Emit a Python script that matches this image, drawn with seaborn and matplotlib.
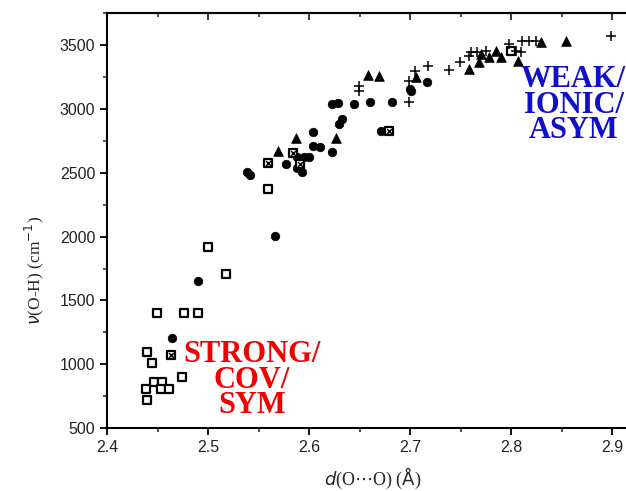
import numpy as np
import pandas as pd
import seaborn as sns
import matplotlib.pyplot as plt
from matplotlib.ticker import MultipleLocator

# Datos: d(O...O) en Å, nu(O-H) en cm^-1
sq_d = [2.4495, 2.476, 2.490, 2.440, 2.4446, 2.474, 2.4465, 2.4545, 2.4386,
        2.4535, 2.461, 2.440, 2.500, 2.518, 2.559, 2.800]
sq_v = [1403, 1403, 1403, 1097, 1010, 900, 861, 861, 806,
        806, 806, 720, 1921, 1709, 2376, 3452]

xsq_d = [2.4634, 2.559, 2.584, 2.591, 2.679]
xsq_v = [1073, 2580, 2658, 2572, 2831]

circ_d = [2.4644, 2.490, 2.539, 2.5416, 2.566, 2.604, 2.588, 2.595, 2.600,
          2.577, 2.588, 2.593, 2.604, 2.611, 2.623, 2.630, 2.633, 2.623,
          2.629, 2.645, 2.660, 2.682, 2.671, 2.700, 2.701, 2.717]
circ_v = [1206, 1654, 2510, 2486, 2007, 2816, 2627, 2627, 2627,
          2572, 2541, 2510, 2714, 2706, 2666, 2886, 2918, 3036,
          3044, 3036, 3051, 3051, 2824, 3153, 3138, 3208]

tri_d = [2.569, 2.587, 2.627, 2.658, 2.669, 2.706, 2.758, 2.768, 2.770,
         2.778, 2.785, 2.790, 2.807, 2.830, 2.854]
tri_v = [2674, 2769, 2769, 3263, 3255, 3247, 3310, 3365, 3428,
         3404, 3452, 3404, 3373, 3522, 3530]

plus_d = [2.649, 2.649, 2.699, 2.699, 2.705, 2.718, 2.739, 2.749, 2.758,
          2.760, 2.766, 2.775, 2.798, 2.805, 2.810, 2.811, 2.818, 2.825, 2.899]
plus_v = [3177, 3138, 3051, 3216, 3295, 3334, 3303, 3365, 3412,
          3444, 3444, 3452, 3507, 3452, 3444, 3530, 3530, 3530, 3569]

sns.set_style('ticks')
plt.rcParams['font.family'] = ['Liberation Sans', 'DejaVu Sans']

fig = plt.figure(figsize=(6.26, 4.91), dpi=100)
fig.patch.set_facecolor('white')
# el eje se sale por la derecha como en la figura original (recortada)
ax = fig.add_axes([0.171, 0.128, 0.968, 0.845])

sns.scatterplot(x=sq_d, y=sq_v, marker='s', s=40, facecolor='white',
                edgecolor='black', linewidth=1.6, ax=ax, zorder=3)
sns.scatterplot(x=xsq_d, y=xsq_v, marker='s', s=40, facecolor='white',
                edgecolor='black', linewidth=1.6, ax=ax, zorder=4)
sns.scatterplot(x=xsq_d, y=xsq_v, marker='x', s=12, color='black',
                linewidth=1.1, ax=ax, zorder=5)
sns.scatterplot(x=circ_d, y=circ_v, marker='o', s=38, color='black',
                edgecolor='black', ax=ax, zorder=3)
sns.scatterplot(x=tri_d, y=tri_v, marker='^', s=48, color='black',
                edgecolor='black', ax=ax, zorder=3)
sns.scatterplot(x=plus_d, y=plus_v, marker='+', s=62, color='black',
                linewidth=1.1, ax=ax, zorder=3)

ax.set_xlim(2.4, 3.0)
ax.set_ylim(500, 3750)
ax.xaxis.set_major_locator(MultipleLocator(0.1))
ax.xaxis.set_minor_locator(MultipleLocator(0.05))
ax.yaxis.set_major_locator(MultipleLocator(500))
ax.yaxis.set_minor_locator(MultipleLocator(250))
ax.set_xticks(np.arange(2.4, 2.95, 0.1))
ax.set_xticklabels([f'{v:.1f}' for v in np.arange(2.4, 2.95, 0.1)])

for sp in ax.spines.values():
    sp.set_linewidth(1.5)
    sp.set_color('black')

ax.tick_params(axis='both', which='major', labelsize=11.5, length=5, width=1.3,
               direction='out', colors='black', labelcolor='#222222',
               top=False, right=False)
ax.tick_params(axis='both', which='minor', length=3, width=1.1,
               direction='out', top=False, right=False)

# marcas hacia dentro en el borde superior
top = ax.secondary_xaxis('top')
top.xaxis.set_major_locator(MultipleLocator(0.1))
top.xaxis.set_minor_locator(MultipleLocator(0.05))
top.tick_params(which='major', direction='in', length=5, width=1.3,
                labeltop=False)
top.tick_params(which='minor', direction='in', length=3, width=1.1)
top.spines['top'].set_linewidth(1.5)

ax.set_xlabel(r'$d$(O$\cdots$O) ($\mathrm{\AA}$)', fontsize=13,
              family='Liberation Serif')
ax.xaxis.set_label_coords(0.439, -0.09)
ax.set_ylabel(r'$\nu$(O-H) (cm$^{-1}$)', fontsize=12.5,
              family='Liberation Serif')
ax.yaxis.set_label_coords(-0.1, 0.38)

ax.text(2.5436, 875, 'STRONG/\nCOV/\nSYM', color='#f00000', fontsize=22,
        fontweight='bold', family='Liberation Serif', ha='center', va='center',
        linespacing=0.84, zorder=6)
ax.text(2.862, 3030, 'WEAK/\nIONIC/\nASYM', color='#1010c8', fontsize=22,
        fontweight='bold', family='Liberation Serif', ha='center', va='center',
        linespacing=0.84, zorder=6)

plt.savefig('out.png', dpi=100)
